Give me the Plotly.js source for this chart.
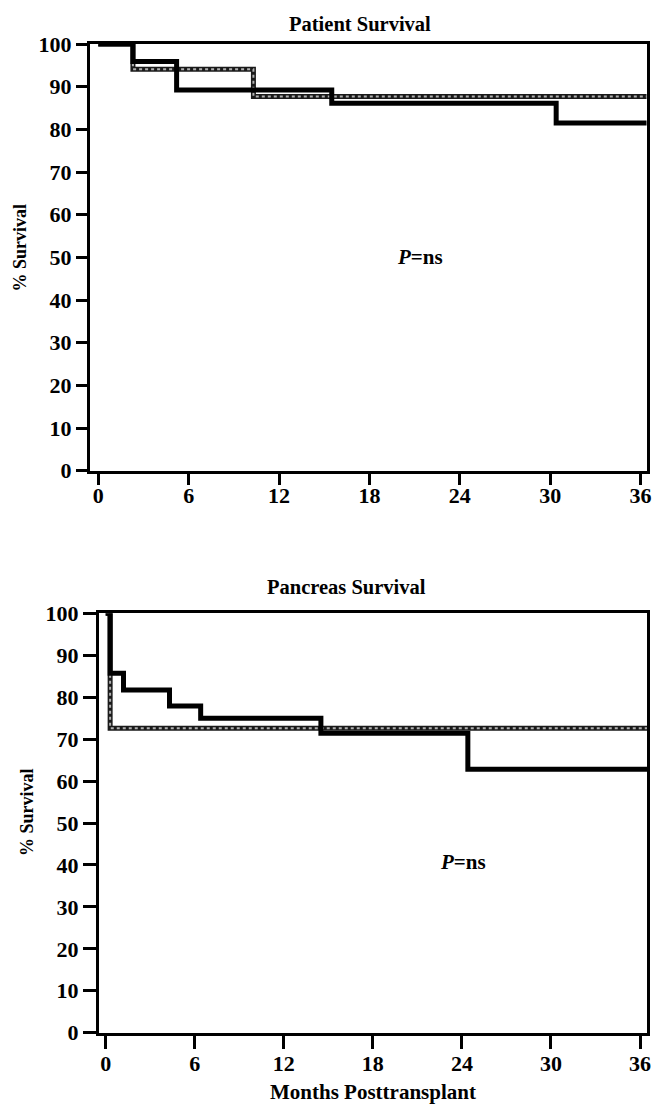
<!DOCTYPE html>
<html><head><meta charset="utf-8">
<script src="https://cdn.plot.ly/plotly-3.0.1.min.js"></script>
<style>html,body{margin:0;padding:0;background:#fff;}#chart{width:654px;height:1105px;}</style>
</head><body><div id="chart"></div>
<script>
// ---- data ----
const patientMonthsSolid = [0, 2.3, 5.2, 15.5, 30.4, 36.4];
const patientSurvSolid   = [100, 95.9, 89.2, 86.1, 81.5, 81.5];
const patientMonthsDotted = [0, 2.3, 10.3, 36.4];
const patientSurvDotted   = [100, 94.1, 87.7, 87.7];

const pancreasMonthsSolid = [0, 0.3, 1.2, 4.3, 6.4, 14.5, 24.4, 36.5];
const pancreasSurvSolid   = [100, 85.7, 81.7, 77.9, 75.0, 71.4, 62.8, 62.8];
const pancreasMonthsDotted = [0, 0.3, 36.5];
const pancreasSurvDotted   = [100, 72.6, 72.6];

const xTickVals = [0, 6, 12, 18, 24, 30, 36];
const yTickVals = [0, 10, 20, 30, 40, 50, 60, 70, 80, 90, 100];

const titles = ["Patient Survival", "Pancreas Survival"];
const yTitle = "% Survival";
const xTitle = "Months Posttransplant";
const pText = "<i>P</i>=ns";

// ---- helpers ----
const W = 654, H = 1105;
const px = x => x / W;
const py = y => 1 - y / H;
const FONT = "Liberation Serif, Times New Roman, serif";

function stepTraces(xs, ys, xa, ya, dotted) {
  const base = {x: xs, y: ys, xaxis: xa, yaxis: ya, mode: "lines",
    line: {shape: "hv", color: dotted ? "#1a1a1a" : "#000", width: 5}, hoverinfo: "skip", showlegend: false};
  if (!dotted) return [base];
  const over = {x: xs, y: ys, xaxis: xa, yaxis: ya, mode: "lines",
    line: {shape: "hv", color: "#b0b0b0", width: 2, dash: "dot"}, hoverinfo: "skip", showlegend: false};
  return [base, over];
}

const data = [
  ...stepTraces(patientMonthsDotted, patientSurvDotted, "x", "y", true),
  ...stepTraces(patientMonthsSolid, patientSurvSolid, "x", "y", false),
  ...stepTraces(pancreasMonthsDotted, pancreasSurvDotted, "x2", "y2", true),
  ...stepTraces(pancreasMonthsSolid, pancreasSurvSolid, "x2", "y2", false),
];

function xAxis(domain, range, anchor, ticklen, standoff) {
  return {domain, range, anchor, tickvals: xTickVals, ticktext: xTickVals.map(String),
    ticks: "outside", ticklen, tickwidth: 3, tickcolor: "#000",
    showline: true, linewidth: 3, linecolor: "#000", mirror: true,
    showgrid: false, zeroline: false, fixedrange: true, ticklabelstandoff: standoff,
    tickfont: {family: FONT, size: 22, color: "#000", weight: "bold"}};
}
function yAxis(domain, anchor, ticklen) {
  return {domain, range: [0, 100], anchor, tickvals: yTickVals, ticktext: yTickVals.map(String),
    ticks: "outside", ticklen, tickwidth: 3, tickcolor: "#000",
    showline: true, linewidth: 3, linecolor: "#000", mirror: true,
    showgrid: false, zeroline: false, fixedrange: true,
    tickfont: {family: FONT, size: 22, color: "#000", weight: "bold"}};
}

const layout = {
  width: W, height: H,
  margin: {l: 0, r: 0, t: 0, b: 0},
  paper_bgcolor: "#fff", plot_bgcolor: "#fff",
  showlegend: false,
  xaxis: xAxis([px(90), px(647)], [-0.55, 36.43], "y", 11, -8),
  yaxis: yAxis([py(470.7), py(44)], "x", 11),
  xaxis2: xAxis([px(99), px(647.3)], [-0.45, 36.49], "y2", 13, -4),
  yaxis2: yAxis([py(1032.7), py(613.3)], "x2", 13),
  annotations: [
    {text: titles[0], xref: "paper", yref: "paper", x: px(287), y: py(24), xanchor: "left", yanchor: "middle",
     showarrow: false, font: {family: FONT, size: 20.5, color: "#000", weight: "bold"}},
    {text: titles[1], xref: "paper", yref: "paper", x: px(265), y: py(587), xanchor: "left", yanchor: "middle",
     showarrow: false, font: {family: FONT, size: 20.5, color: "#000", weight: "bold"}},
    {text: yTitle, xref: "paper", yref: "paper", x: px(20), y: py(247.5), xanchor: "center", yanchor: "middle",
     textangle: -90, showarrow: false, font: {family: FONT, size: 18, color: "#000", weight: "bold"}},
    {text: yTitle, xref: "paper", yref: "paper", x: px(27), y: py(812), xanchor: "center", yanchor: "middle",
     textangle: -90, showarrow: false, font: {family: FONT, size: 18, color: "#000", weight: "bold"}},
    {text: pText, xref: "paper", yref: "paper", x: px(420), y: py(257), xanchor: "center", yanchor: "middle",
     showarrow: false, font: {family: FONT, size: 21, color: "#000", weight: "bold"}},
    {text: pText, xref: "paper", yref: "paper", x: px(463), y: py(862), xanchor: "center", yanchor: "middle",
     showarrow: false, font: {family: FONT, size: 21, color: "#000", weight: "bold"}},
    {text: xTitle, xref: "paper", yref: "paper", x: px(373), y: py(1092), xanchor: "center", yanchor: "middle",
     showarrow: false, font: {family: FONT, size: 21, color: "#000", weight: "bold"}},
  ]
};

Plotly.newPlot("chart", data, layout, {staticPlot: true, displayModeBar: false});
</script>
</body></html>
